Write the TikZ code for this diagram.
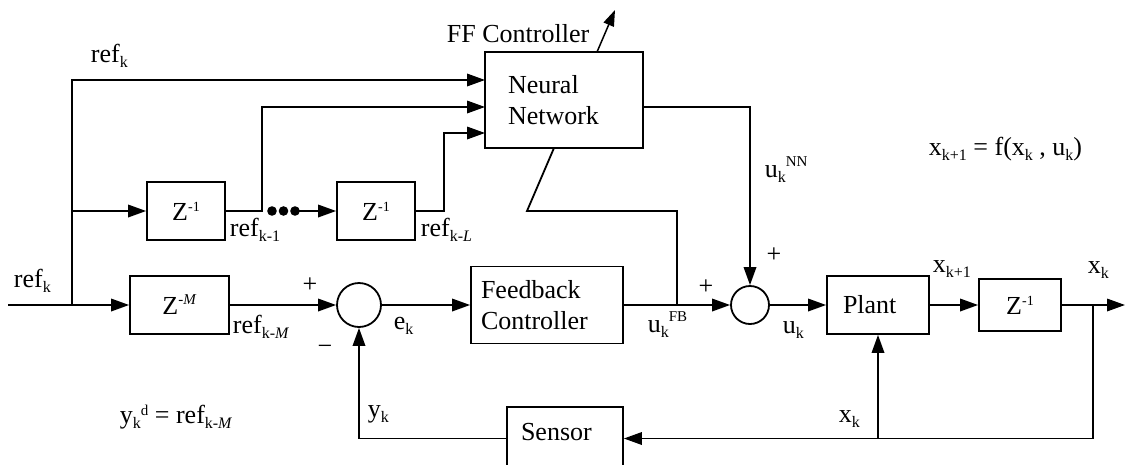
\documentclass[tikz,border=0pt]{standalone}
\usepackage{fontspec}
\setmainfont{Liberation Serif}
\usetikzlibrary{arrows.meta}
\newcommand\mysub[1]{\raisebox{-5pt}{\fontsize{16}{16}\selectfont #1}}
\newcommand\mysup[2][11pt]{\raisebox{#1}{\fontsize{15}{15}\selectfont #2}}
\newcommand\zsup[1]{\raisebox{9pt}{\fontsize{14}{14}\selectfont #1}}
\begin{document}
\begin{tikzpicture}[x=1pt,y=-1pt,line width=1.8pt,
  arr/.style={-{Triangle[length=18pt,width=12.5pt]}},
  blk/.style={draw,rectangle,inner sep=0pt,font=\fontsize{26}{31}\selectfont},
  sumj/.style={draw,circle,inner sep=0pt},
  lbl/.style={inner sep=0pt,anchor=base west,font=\fontsize{26}{31}\selectfont},
  sgn/.style={inner sep=0pt,font=\fontsize{26}{31}\selectfont}]
\useasboundingbox (0,0) rectangle (1125,464);
\clip (0,0) rectangle (1125,464);
% blocks
\node[blk,minimum width=158pt,minimum height=96pt,text width=112pt,inner xsep=23pt,align=left] (nn) at (564,100) {Neural\\Network};
\node[blk,minimum width=152pt,minimum height=77pt,text width=132pt,inner xsep=10pt,align=left] (fb) at (547,305) {Feedback\\Controller};
\node[blk,minimum width=116pt,minimum height=63pt,text width=88pt,inner xsep=14pt,text height=18pt,text depth=14pt,align=left] (sensor) at (565,438.5) {Sensor};
\node[blk,minimum width=102pt,minimum height=58pt,text width=70pt,inner xsep=16pt,align=left] (plant) at (878,305) {Plant};
\node[blk,minimum width=82pt,minimum height=52pt] (zd) at (1020,305) {Z\zsup{-1}};
\node[blk,minimum width=78pt,minimum height=58pt] (z1) at (186,211) {Z\zsup{-1}};
\node[blk,minimum width=78pt,minimum height=58pt] (z2) at (376,211) {Z\zsup{-1}};
\node[blk,minimum width=99pt,minimum height=58pt] (zm) at (179.5,305) {Z\raisebox{10pt}{\fontsize{15}{15}\selectfont -\textit{M}}};
\node[sumj,minimum size=44pt] (s1) at (359,305) {};
\node[sumj,minimum size=38pt] (s2) at (750,305) {};
% coordinates
\coordinate (in) at (8,305);
\coordinate (j0) at (72,305);
\coordinate (j1) at (72,211);
\coordinate (nin1) at (485,80);
\coordinate (nin2) at (485,107);
\coordinate (nin3) at (485,133);
\coordinate (j2) at (262,211);
\coordinate (dotend) at (299,211);
\coordinate (j3) at (444,211);
\coordinate (nnb) at (554,148);
\coordinate (j4) at (527,211);
\coordinate (j5) at (677,211);
\coordinate (j6) at (677,305);
\coordinate (fft) at (597,52);
\coordinate (ffh) at (615,10);
\coordinate (nout) at (643,107);
\coordinate (out) at (1125,305);
\coordinate (j7) at (1093,305);
% connectors
\draw[arr] (in) -- (zm.west);
\draw[arr] (j0) |- (nin1);
\draw[arr] (j1) -- (z1.west);
\draw[arr] (z1.east) -- (j2) |- (nin2);
\fill (272,211) circle (4.8pt) (283.5,211) circle (4.8pt) (295,211) circle (4.8pt);
\draw[arr] (dotend) -- (z2.west);
\draw[arr] (z2.east) -- (j3) |- (nin3);
\draw (nnb) -- (j4) -- (j5) -- (j6);
\draw[line width=1.5pt,-{Triangle[length=16pt,width=11pt]}] (fft) -- (ffh);
\draw[arr] (nout) -| (s2.north);
\draw[arr] (zm.east) -- (s1.west);
\draw[arr] (s1.east) -- (fb.west);
\draw[arr] (fb.east) -- (s2.west);
\draw[arr] (s2.east) -- (plant.west);
\draw[arr] (plant.east) -- (zd.west);
\draw[arr] (zd.east) -- (out);
\draw[arr] (j7) |- (sensor.east);
\draw[arr] (plant.south |- sensor.east) -- (plant.south);
\draw[arr] (sensor.west) -| (s1.south);
% labels
\node[lbl] (lff) at (446,42) {FF Controller};
\node[lbl] (lref1) at (90,62) {ref\mysub{k}};
\node[lbl] (lref0) at (13,287) {ref\mysub{k}};
\node[lbl] (lrefk1) at (229,236) {ref\mysub{k-1}};
\node[lbl] (lrefkl) at (420,236) {ref\mysub{k-\textit{L}}};
\node[lbl] (lrefkm) at (232,333) {ref\mysub{k-\textit{M}}};
\node[sgn] (p1) at (310,285) {+};
\node[sgn] (m1) at (325,350) {−};
\node[lbl] (lek) at (393,329) {e\mysub{k}};
\node[lbl] (lyk) at (367,417) {y\mysub{k}};
\node[lbl] (lyd) at (119,423) {y\mysub{k}\mysup[8pt]{d} = ref\mysub{k-\textit{M}}};
\node[lbl] (lufb) at (647,332) {u\mysub{k}\mysup{FB}};
\node[lbl] (luk) at (782,333) {u\mysub{k}};
\node[sgn] (p2) at (706,287) {+};
\node[sgn] (p3) at (774,255) {+};
\node[lbl] (lunn) at (764,177) {u\mysub{k}\mysup{NN}};
\node[lbl] (leq) at (928,155) {x\mysub{k+1} = f(x\mysub{k} , u\mysub{k})};
\node[lbl] (lxk1) at (932,272) {x\mysub{k+1}};
\node[lbl] (lxk) at (1087,273) {x\mysub{k}};
\node[lbl] (lxk2) at (838,422) {x\mysub{k}};
\end{tikzpicture}
\end{document}
